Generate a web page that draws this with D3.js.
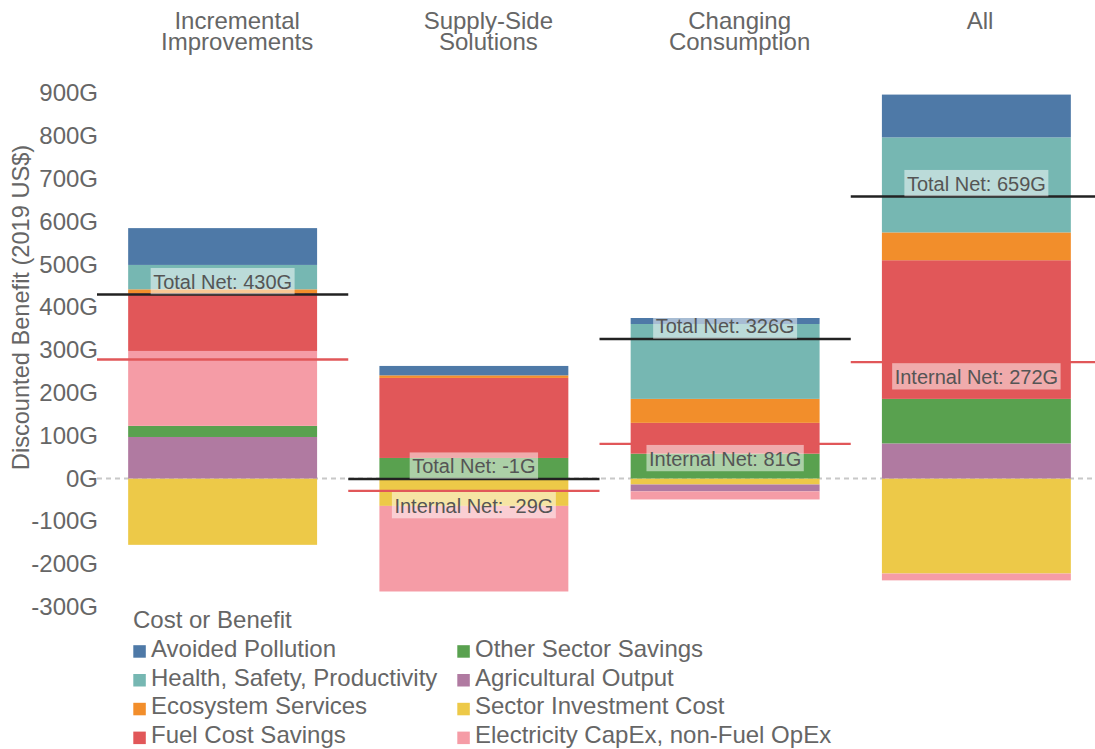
<!DOCTYPE html>
<html>
<head>
<meta charset="utf-8">
<script src="https://cdn.jsdelivr.net/npm/d3@7"></script>
<style>
  body { margin: 0; background: #fff; }
  text { font-family: "Liberation Sans", Arial, Helvetica, sans-serif; }
</style>
</head>
<body>
<svg id="chart" width="1095" height="749"></svg>
<script>
// Solution groups (one stacked bar each) and their two-line headings
const groups = ["Incremental Improvements", "Supply-Side Solutions", "Changing Consumption", "All"];
const groupTitleLines = [["Incremental", "Improvements"], ["Supply-Side", "Solutions"], ["Changing", "Consumption"], ["All"]];

// Cost / benefit categories in legend order
const categories = [
  "Avoided Pollution",
  "Health, Safety, Productivity",
  "Ecosystem Services",
  "Fuel Cost Savings",
  "Other Sector Savings",
  "Agricultural Output",
  "Sector Investment Cost",
  "Electricity CapEx, non-Fuel OpEx"
];
const categoryColors = ["#4e79a7", "#76b7b2", "#f28e2b", "#e15759", "#59a14f", "#b07aa1", "#edc948", "#f59ca6"];

// Discounted benefit per group, in billions of 2019 US$ (G)
const avoidedPollution   = [86, 22, 14, 100];
const healthSafety       = [57, 0, 175, 222];
const ecosystemServices  = [9, 6, 56, 65];
const fuelCostSavings    = [135, 187, 72, 324];
const otherSectorSavings = [26, 48, 58, 104];
const agriculturalOutput = [97, 0, -16, 82];
const sectorInvestment   = [-155, -64, -14, -222];
const electricityCapex   = [175, -200, -19, -16];

// Categories that count toward the internal (sector) net
const internalCategories = ["Fuel Cost Savings", "Other Sector Savings", "Agricultural Output",
                            "Sector Investment Cost", "Electricity CapEx, non-Fuel OpEx"];
// Stacking order, from the zero line outward
const stackOrder = ["Sector Investment Cost", "Agricultural Output", "Other Sector Savings",
                    "Electricity CapEx, non-Fuel OpEx", "Fuel Cost Savings", "Ecosystem Services",
                    "Health, Safety, Productivity", "Avoided Pollution"];
// Which groups carry an "Internal Net" caption
const internalLabelShown = [false, true, true, true];

const yTicks = [-300, -200, -100, 0, 100, 200, 300, 400, 500, 600, 700, 800, 900];

const seriesValues = [avoidedPollution, healthSafety, ecosystemServices, fuelCostSavings,
                      otherSectorSavings, agriculturalOutput, sectorInvestment, electricityCapex];

const W = 1095;

// Build one row per group for d3.stack
const rows = groups.map((g, i) => {
  const r = { group: g };
  categories.forEach((c, k) => { r[c] = seriesValues[k][i]; });
  return r;
});
const totalNet = rows.map(r => d3.sum(categories, c => r[c]));
const internalNet = rows.map(r => d3.sum(internalCategories, c => r[c]));

const svg = d3.select("#chart");
const color = d3.scaleOrdinal().domain(categories).range(categoryColors);

const xBand = d3.scaleBand().domain(groups).range([97, 1102]).paddingInner(0).paddingOuter(0);
const xBar = d3.scaleBand().domain(groups).range([97, 1102]).paddingInner(0.248).paddingOuter(0.124);
const xHeader = d3.scaleBand().domain(groups).range([111.5, 1116.5]);
const y = d3.scaleLinear().domain([-300, 900]).range([606.9, 93.3]);

const FONT = "24px";

// Zero reference line (under the bars)
svg.append("line")
  .attr("x1", xBand.range()[0]).attr("x2", xBand.range()[1])
  .attr("y1", y(0)).attr("y2", y(0))
  .attr("stroke", "#c8c8c8").attr("stroke-width", 2)
  .attr("stroke-dasharray", "5,4");

// Stacked bars
const stacked = d3.stack()
  .keys(stackOrder)
  .order(d3.stackOrderNone)
  .offset(d3.stackOffsetDiverging)(rows);

svg.append("g").selectAll("g")
  .data(stacked)
  .join("g")
  .attr("fill", d => color(d.key))
  .selectAll("rect")
  .data(d => d)
  .join("rect")
  .attr("x", d => xBar(d.data.group))
  .attr("width", xBar.bandwidth())
  .attr("y", d => y(Math.max(d[0], d[1])))
  .attr("height", d => Math.abs(y(d[0]) - y(d[1])));

// Net lines across each group's band
const netG = svg.append("g");
netG.selectAll("line.internal")
  .data(groups)
  .join("line")
  .attr("class", "internal")
  .attr("x1", g => xBand(g)).attr("x2", g => xBand(g) + xBand.bandwidth())
  .attr("y1", (g, i) => y(internalNet[i])).attr("y2", (g, i) => y(internalNet[i]))
  .attr("stroke", "#e15759").attr("stroke-width", 2.4);
netG.selectAll("line.total")
  .data(groups)
  .join("line")
  .attr("class", "total")
  .attr("x1", g => xBand(g)).attr("x2", g => xBand(g) + xBand.bandwidth())
  .attr("y1", (g, i) => y(totalNet[i])).attr("y2", (g, i) => y(totalNet[i]))
  .attr("stroke", "#222").attr("stroke-width", 2.6);

// Captions with a translucent white backing
function caption(text, cx, baseline) {
  const g = svg.append("g");
  const rect = g.append("rect").attr("fill", "#fff").attr("fill-opacity", 0.5);
  const t = g.append("text")
    .attr("x", cx).attr("y", baseline)
    .attr("text-anchor", "middle")
    .attr("font-size", "20px")
    .attr("fill", "#555")
    .text(text);
  const bb = t.node().getBBox();
  rect.attr("x", bb.x - 2.5).attr("width", bb.width + 5)
    .attr("y", baseline - 20.8).attr("height", 26.3);
}
groups.forEach((g, i) => {
  const cx = xBand(g) + xBand.bandwidth() / 2;
  caption(`Total Net: ${totalNet[i]}G`, cx, y(totalNet[i]) - 5.7);
  if (internalLabelShown[i]) {
    caption(`Internal Net: ${internalNet[i]}G`, cx, y(internalNet[i]) + 21.9);
  }
});

// Y axis (labels only)
const yAxis = svg.append("g")
  .attr("transform", "translate(98,0)")
  .call(d3.axisLeft(y).tickValues(yTicks).tickFormat(d => d + "G").tickSize(0).tickPadding(0));
yAxis.select(".domain").remove();
yAxis.selectAll("text")
  .attr("font-size", FONT)
  .attr("fill", "#666")
  .style("font-family", "'Liberation Sans', Arial, sans-serif");

svg.append("text")
  .attr("transform", "translate(29,307.5) rotate(-90)")
  .attr("text-anchor", "middle")
  .attr("font-size", "23.6px")
  .attr("fill", "#666")
  .text("Discounted Benefit (2019 US$)");

// Group headings, centred on the visible part of each header band
groups.forEach((g, i) => {
  const x0 = xHeader(g), x1 = Math.min(x0 + xHeader.bandwidth(), W);
  const t = svg.append("text")
    .attr("text-anchor", "middle")
    .attr("font-size", FONT)
    .attr("fill", "#666");
  groupTitleLines[i].forEach((line, k) => {
    t.append("tspan")
      .attr("x", (x0 + x1) / 2)
      .attr("y", 29 + k * 20.5)
      .text(line);
  });
});

// Legend
const legend = svg.append("g");
legend.append("text")
  .attr("x", 133).attr("y", 627.7)
  .attr("font-size", FONT).attr("fill", "#666")
  .text("Cost or Benefit");
categories.forEach((c, k) => {
  const col = Math.floor(k / 4), row = k % 4;
  const sx = col === 0 ? 133.3 : 457.3;
  const base = 656.7 + row * 28.8;
  legend.append("rect")
    .attr("x", sx).attr("y", base - 11.5)
    .attr("width", 12.5).attr("height", 12.5)
    .attr("fill", color(c));
  legend.append("text")
    .attr("x", sx + 17.7).attr("y", base)
    .attr("font-size", FONT).attr("fill", "#666")
    .text(c);
});
</script>
</body>
</html>
